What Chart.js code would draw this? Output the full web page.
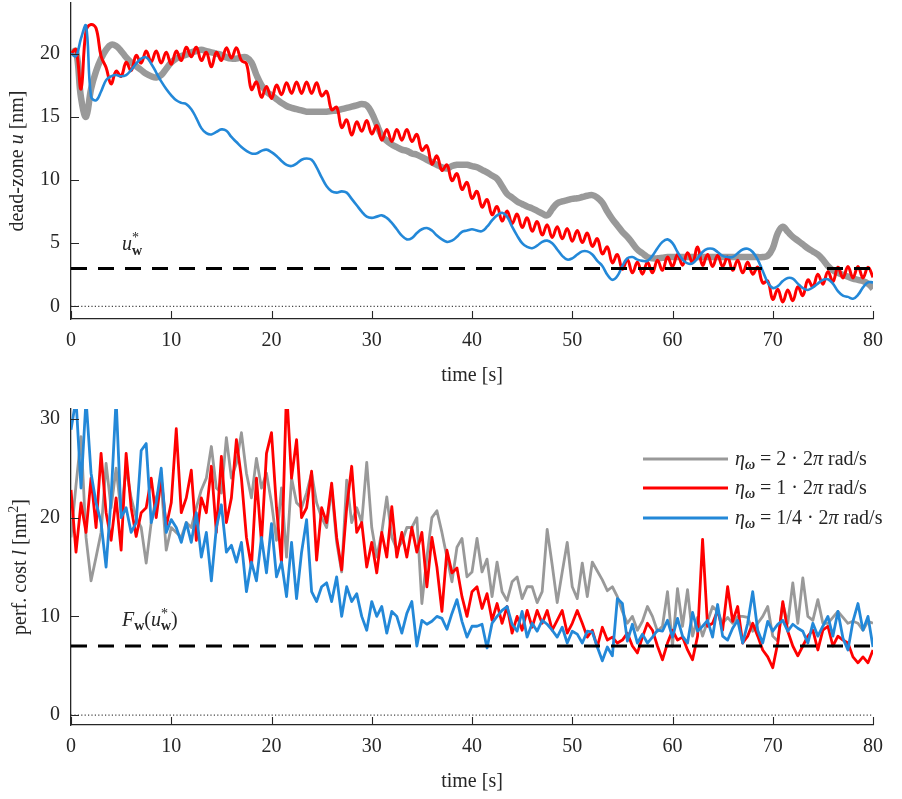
<!DOCTYPE html>
<html>
<head>
<meta charset="utf-8">
<script src="https://cdn.jsdelivr.net/npm/chart.js@4.4.1/dist/chart.umd.min.js"></script>
<style>
  html, body { margin: 0; padding: 0; background: #fff; }
  #wrap { position: relative; width: 902px; height: 799px; }
  #wrap canvas { position: absolute; left: 0; }
</style>
</head>
<body>
<div id="wrap">
  <canvas id="topChart" width="902" height="390" style="top:0"></canvas>
  <canvas id="botChart" width="902" height="409" style="top:390px"></canvas>
</div>
<script>
// sample spacing of every trace [s]
const tStep = 0.5;

const xTicks = [0, 10, 20, 30, 40, 50, 60, 70, 80];
const uTicks = [0, 5, 10, 15, 20];
const lTicks = [0, 10, 20, 30];

const uStar = 3;   // u*_w
const fStar = 7;   // F_w(u*_w)

// dead-zone u [nm], t = 0 .. 80 s every 0.5 s
const uGray = [
  20.0, 20.2, 16.5, 15.0, 17.2, 18.6, 19.6, 20.3, 20.7, 20.6,
  20.2, 19.7, 19.3, 19.0, 18.7, 18.4, 18.2, 18.1, 18.3, 18.8,
  19.3, 19.6, 19.8, 19.9, 20.1, 20.2, 20.3, 20.2, 20.1, 20.0,
  19.9, 19.7, 19.6, 19.6, 19.7, 19.7, 19.3, 18.3, 17.5, 17.0,
  16.7, 16.4, 16.1, 15.85, 15.7, 15.6, 15.5, 15.4, 15.4, 15.4,
  15.4, 15.4, 15.45, 15.5, 15.6, 15.7, 15.8, 15.9, 16.0, 15.9,
  15.3, 14.4, 13.5, 13.1, 12.8, 12.6, 12.4, 12.3, 12.1, 12.0,
  11.8, 11.6, 11.4, 11.2, 11.0, 10.9, 11.1, 11.2, 11.2, 11.2,
  11.1, 11.0, 10.8, 10.6, 10.35, 10.1, 9.5, 8.9, 8.6, 8.3,
  8.1, 7.9, 7.75, 7.55, 7.35, 7.2, 7.7, 8.15, 8.3, 8.4,
  8.5, 8.55, 8.65, 8.75, 8.8, 8.6, 8.2, 7.5, 6.9, 6.4,
  5.9, 5.5, 5.0, 4.5, 4.2, 3.9, 3.8, 3.8, 3.85, 3.9,
  3.9, 3.9, 3.9, 3.9, 3.9, 3.9, 3.9, 3.9, 3.9, 3.9,
  3.9, 3.9, 3.9, 3.9, 3.9, 3.9, 3.9, 3.9, 3.9, 4.0,
  4.6, 5.8, 6.3, 5.9, 5.5, 5.2, 4.9, 4.6, 4.35, 4.1,
  3.7, 3.2, 2.85, 2.65, 2.5, 2.35, 2.2, 2.1, 2.0, 1.8,
  1.4
];
const uRed = [
  20.0, 20.3, 17.2, 21.8, 22.3, 22.0, 19.8, 18.9, 17.6, 18.6,
  18.2, 19.3, 18.65, 19.85, 19.25, 20.2, 19.35, 20.2, 19.25, 20.1,
  19.15, 20.2, 19.45, 20.5, 19.75, 20.5, 19.45, 20.1, 18.95, 20.1,
  19.45, 20.45, 19.65, 20.45, 19.45, 19.2, 17.15, 17.75, 16.55, 17.4,
  16.45, 17.5, 16.75, 17.7, 16.85, 17.75, 16.85, 17.75, 16.85, 17.7,
  16.65, 17.0, 15.55, 15.75, 14.15, 14.75, 13.55, 14.6, 13.85, 14.7,
  13.65, 14.3, 13.15, 14.0, 13.05, 14.0, 13.15, 14.0, 13.05, 13.6,
  12.35, 12.7, 11.25, 11.9, 10.75, 11.2, 9.95, 10.5, 9.25, 9.8,
  8.55, 9.1, 7.85, 8.45, 7.25, 7.9, 6.75, 7.55, 6.55, 7.3,
  6.25, 7.0, 5.95, 6.7, 5.65, 6.45, 5.45, 6.3, 5.35, 6.15,
  5.15, 6.0, 5.05, 5.8, 4.75, 5.35, 4.15, 4.7, 3.45, 4.1,
  2.95, 3.7, 2.65, 3.5, 2.55, 3.5, 2.65, 3.65, 2.85, 3.9,
  3.15, 4.1, 3.25, 4.25, 3.45, 4.7, 3.25, 4.1, 3.15, 4.05,
  3.15, 3.9, 2.85, 3.65, 2.65, 3.5, 2.55, 3.1, 1.85, 2.0,
  0.55, 1.35, 0.35, 1.3, 0.45, 1.55, 0.85, 2.1, 1.55, 2.55,
  1.75, 2.75, 1.95, 3.1, 2.25, 3.15, 2.25, 3.15, 2.25, 3.1,
  2.3
];
const uBlue = [
  20.0, 19.8, 21.2, 22.2, 16.6, 16.3, 17.0, 17.9, 18.2, 18.3,
  18.2, 18.3, 18.7, 19.2, 19.6, 19.7, 19.2, 18.5, 17.8, 17.2,
  16.7, 16.3, 16.1, 16.0, 15.6, 14.9, 14.1, 13.7, 13.6, 13.8,
  14.0, 13.9, 13.4, 13.0, 12.6, 12.3, 12.1, 12.1, 12.3, 12.4,
  12.2, 11.9, 11.5, 11.2, 11.1, 11.3, 11.6, 11.7, 11.6, 11.0,
  10.2, 9.5, 9.1, 9.0, 9.1, 9.0, 8.5, 8.0, 7.5, 7.1,
  7.0, 7.1, 7.2, 7.0, 6.6, 6.1, 5.6, 5.3, 5.4, 5.8,
  6.1, 6.2, 6.0, 5.6, 5.3, 5.1, 5.2, 5.5, 5.9, 6.0,
  6.1, 6.0, 5.95, 6.3, 6.8, 7.2, 7.4, 7.1, 6.3, 5.6,
  5.0, 4.7, 4.6, 4.8, 5.1, 5.2, 5.0, 4.5, 4.0, 3.7,
  3.8, 4.1, 4.35, 4.35, 4.1, 3.6, 3.2, 2.5, 2.1, 2.4,
  3.2, 3.8, 3.9, 3.7, 3.6, 3.6, 4.0, 4.6, 5.1, 5.3,
  5.0, 4.3, 3.7, 3.4, 3.4, 3.8, 4.3, 4.55, 4.55, 4.3,
  4.0, 3.9, 3.9, 4.2, 4.5, 4.55, 4.3, 3.7, 2.8, 1.9,
  1.45, 1.6, 2.0, 2.25, 2.2, 1.8, 1.45, 1.3, 1.5, 1.8,
  2.1, 2.15, 1.8, 1.2, 0.85, 0.75, 0.6, 0.9, 1.5, 1.9,
  1.9
];

// perf. cost l [nm^2], t = 0 .. 80 s every 0.5 s
const lGray = [
  18.0, 23.3, 28.2, 18.0, 13.6, 16.0, 18.5, 25.5, 21.0, 25.0,
  20.5, 25.0, 22.0, 20.0, 19.0, 15.4, 19.5, 22.0, 23.5, 16.7,
  19.0, 18.5, 18.0, 19.5, 19.0, 21.0, 22.8, 24.0, 27.2, 23.0,
  22.5, 28.1, 24.0, 25.5, 28.6, 24.5, 22.0, 26.0, 23.0, 24.5,
  21.5, 17.7, 23.0, 16.0, 24.0, 21.5, 21.0, 22.5, 24.5, 21.5,
  20.0, 19.0, 23.0, 17.5, 14.5, 23.8, 19.5, 21.0, 19.5, 25.6,
  19.0, 16.0, 18.5, 22.1, 18.0, 16.8, 17.5, 19.0, 19.0, 20.0,
  11.3, 16.0, 20.0, 20.7, 18.5, 16.0, 13.5, 17.0, 17.9, 14.0,
  14.5, 17.9, 14.5, 15.8, 12.0, 15.5, 12.5, 11.6, 13.5, 14.0,
  11.8, 13.0, 13.0, 11.4, 12.5, 18.8, 15.2, 11.4, 14.5, 17.5,
  13.0, 11.8, 15.4, 12.0, 15.5, 14.6, 13.7, 12.6, 13.0, 12.0,
  10.5, 9.3, 10.0, 8.6, 9.5, 11.0, 10.0, 8.5, 9.0, 12.5,
  7.0, 12.8, 9.0, 12.7, 8.0, 9.9, 8.0, 9.5, 11.0, 10.5,
  9.3, 9.9, 9.3, 10.0, 10.0, 9.9, 8.5, 9.3, 10.0, 11.0,
  8.0, 7.5, 11.3, 9.3, 13.4, 9.3, 13.9, 10.0, 9.6, 11.7,
  9.3, 9.3, 9.9, 10.5, 9.9, 9.3, 9.5, 9.3, 8.6, 9.5,
  9.3
];
const lRed = [
  22.8, 16.5, 21.5, 18.5, 24.0, 19.0, 26.5, 20.5, 17.7, 22.0,
  16.7, 26.5, 21.0, 18.1, 20.5, 21.0, 24.0, 20.0, 24.0, 19.1,
  21.5, 29.0, 20.5, 22.0, 24.8, 17.7, 22.0, 20.5, 25.2, 18.5,
  26.2, 19.5, 22.0, 27.9, 24.0, 18.0, 15.0, 24.0, 17.5, 26.5,
  28.6, 21.0, 15.4, 33.0, 24.0, 27.9, 20.0, 21.0, 24.7, 15.7,
  21.0, 19.5, 23.5, 18.0, 14.7, 21.0, 25.2, 18.5, 19.5, 15.0,
  17.5, 14.4, 18.5, 16.0, 21.1, 16.0, 18.5, 16.0, 19.0, 16.5,
  18.5, 13.0, 18.0, 15.0, 10.5, 16.7, 14.4, 14.9, 12.0, 10.0,
  12.5, 13.0, 10.8, 12.3, 9.6, 11.3, 9.3, 11.0, 8.3, 10.0,
  8.6, 10.6, 8.9, 10.6, 9.3, 10.6, 8.6, 9.6, 10.6, 8.3,
  9.3, 10.6, 9.3, 7.9, 8.6, 6.9, 8.9, 7.6, 7.9, 7.3,
  7.6, 8.3, 7.0, 6.3, 7.9, 9.3, 8.6, 7.0, 5.6, 7.3,
  8.6, 7.6, 7.9, 6.6, 5.6, 8.0, 17.8, 9.0, 9.3, 10.6,
  8.6, 13.0, 9.5, 11.0, 7.3, 8.0, 9.3, 8.0, 6.6, 5.9,
  4.8, 7.3, 11.5, 8.5, 7.0, 6.0, 7.0, 8.0, 8.6, 6.6,
  8.6, 9.0, 7.0, 8.0, 7.6, 7.3, 5.9, 5.3, 5.9, 5.3,
  6.6
];
const lBlue = [
  28.9, 32.0, 23.0, 32.0, 24.5, 21.5, 19.5, 15.0, 22.0, 32.0,
  20.0, 21.0, 18.5, 19.5, 26.8, 27.5, 19.5, 21.5, 25.0, 18.5,
  19.8, 19.0, 17.5, 19.5, 17.5, 20.5, 16.0, 18.5, 13.6, 19.0,
  21.3, 16.5, 17.2, 15.5, 17.5, 12.5, 15.5, 13.6, 18.0, 14.4,
  19.4, 14.0, 15.5, 12.0, 17.5, 11.8, 16.5, 19.8, 12.5, 11.5,
  13.0, 13.4, 11.5, 14.0, 10.0, 13.0, 11.5, 12.3, 10.0, 8.6,
  11.5, 10.0, 11.0, 8.3, 10.5, 10.0, 8.3, 10.3, 11.5, 7.0,
  9.6, 9.2, 9.5, 10.0, 9.8, 8.7, 10.3, 11.7, 9.5, 7.9,
  9.0, 9.0, 9.2, 6.8, 9.3, 10.0, 10.6, 11.0, 9.2, 8.5,
  10.5, 7.9, 9.3, 8.5, 9.6, 9.2, 8.6, 7.9, 8.9, 7.3,
  8.5, 8.2, 7.3, 8.5, 8.4, 6.9, 5.5, 6.9, 6.0, 11.8,
  11.3, 7.5, 9.2, 7.3, 8.2, 7.3, 7.9, 8.6, 8.5, 9.6,
  7.9, 9.8, 8.0, 7.3, 10.4, 8.5, 9.0, 9.6, 7.9, 11.2,
  8.0, 7.6, 8.8, 9.6, 7.3, 9.3, 12.5, 8.6, 7.3, 9.5,
  8.5, 9.2, 9.6, 8.5, 9.2, 8.8, 8.5, 7.3, 9.3, 8.0,
  9.0, 10.0, 8.0, 10.5, 7.8, 6.6, 9.5, 11.3, 8.6, 10.0,
  6.9
];

const legendLabels = [
  [['η', 'italic', 20, 0], ['ω', 'italic bold', 14, 4], [' = 2 · 2', '', 20, 0], ['π', 'italic', 20, 0], [' rad/s', '', 20, 0]],
  [['η', 'italic', 20, 0], ['ω', 'italic bold', 14, 4], [' = 1 · 2', '', 20, 0], ['π', 'italic', 20, 0], [' rad/s', '', 20, 0]],
  [['η', 'italic', 20, 0], ['ω', 'italic bold', 14, 4], [' = 1/4 · 2', '', 20, 0], ['π', 'italic', 20, 0], [' rad/s', '', 20, 0]]
];

const FONT = "'Liberation Serif', 'DejaVu Serif', serif";
const AXIS = '#262626';
const GRAY = '#999999', RED = '#ff0000', BLUE = '#2388d8';

const pts = vals => vals.map((v, i) => ({ x: i * tStep, y: v }));
const flat = v => [{ x: 0, y: v }, { x: 80, y: v }];

// text made of pieces: [text, style, size, dy, noAdvance]
function drawMath(ctx, x, y, parts, align) {
  const fontOf = p => `${p[1] || ''} ${p[2]}px ${FONT}`.trim();
  let w = 0;
  parts.forEach(p => { if (!p[4]) { ctx.font = fontOf(p); w += ctx.measureText(p[0]).width; } });
  let cx = align === 'center' ? x - w / 2 : x;
  ctx.textAlign = 'left';
  ctx.textBaseline = 'alphabetic';
  parts.forEach(p => {
    ctx.font = fontOf(p);
    ctx.fillText(p[0], cx, y + (p[3] || 0));
    if (!p[4]) cx += ctx.measureText(p[0]).width;
  });
}

const extras = {
  topChart: {
    yTicks: uTicks, yTitleX: 23,
    yTitle: [['dead-zone ', '', 20, 0], ['u', 'italic', 20, 0], [' [nm]', '', 20, 0]],
    note: [['u', 'italic', 20, 0], ['*', '', 14, -8, true], ['w', 'bold', 14, 5]],
    noteRef: uStar, noteDy: -18
  },
  botChart: {
    yTicks: lTicks, yTitleX: 26,
    yTitle: [['perf. cost ', '', 20, 0], ['l', 'italic', 20, 0], [' [nm', '', 20, 0], ['2', '', 14, -8], [']', '', 20, 0]],
    note: [['F', 'italic', 20, 0], ['w', 'bold', 14, 4], ['(', '', 20, 0], ['u', 'italic', 20, 0], ['*', '', 14, -8, true], ['w', 'bold', 14, 4], [')', '', 20, 0]],
    noteRef: fStar, noteDy: -20,
    legend: true
  }
};

const extrasPlugin = {
  id: 'extras',
  afterDraw(chart) {
    const cfg = extras[chart.canvas.id];
    const ctx = chart.ctx, area = chart.chartArea;
    const xs = chart.scales.x, ys = chart.scales.y;
    ctx.save();
    ctx.strokeStyle = AXIS; ctx.fillStyle = AXIS; ctx.lineWidth = 1.1;
    // inward ticks
    ctx.beginPath();
    xTicks.forEach(v => { const px = Math.round(xs.getPixelForValue(v)) + 0.5; ctx.moveTo(px, area.bottom); ctx.lineTo(px, area.bottom - 8); });
    cfg.yTicks.forEach(v => { const py = Math.round(ys.getPixelForValue(v)) + 0.5; ctx.moveTo(area.left, py); ctx.lineTo(area.left + 8, py); });
    ctx.stroke();
    // axis titles
    drawMath(ctx, (area.left + area.right) / 2, area.bottom + 62, [['time [s]', '', 20, 0]], 'center');
    ctx.save();
    ctx.translate(cfg.yTitleX, (area.top + area.bottom) / 2);
    ctx.rotate(-Math.PI / 2);
    drawMath(ctx, 0, 0, cfg.yTitle, 'center');
    ctx.restore();
    // reference level label
    drawMath(ctx, area.left + 51, ys.getPixelForValue(cfg.noteRef) + cfg.noteDy, cfg.note, 'left');
    // legend
    if (cfg.legend) {
      const colors = [GRAY, RED, BLUE];
      const rows = [50, 79, 109];
      rows.forEach((dy, i) => {
        const y = area.top + dy;
        ctx.strokeStyle = colors[i]; ctx.lineWidth = 3;
        ctx.beginPath(); ctx.moveTo(area.right - 230, y); ctx.lineTo(area.right - 145, y); ctx.stroke();
        ctx.fillStyle = AXIS;
        drawMath(ctx, area.right - 138, y + 6, legendLabels[i], 'left');
      });
    }
    ctx.restore();
  }
};

function makeChart(id, c) {
  const noPad = s => { s.paddingTop = 0; s.paddingBottom = 0; s.paddingLeft = 0; s.paddingRight = 0; };
  return new Chart(document.getElementById(id), {
    type: 'line',
    data: { datasets: c.datasets },
    options: {
      responsive: false,
      animation: false,
      events: [],
      layout: { padding: { top: c.padTop, right: 29, left: 0, bottom: 0 } },
      plugins: { legend: { display: false }, tooltip: { enabled: false } },
      elements: { point: { radius: 0 }, line: { borderJoinStyle: 'round' } },
      scales: {
        x: {
          type: 'linear', min: 0, max: 80,
          afterBuildTicks: s => { s.ticks = xTicks.map(v => ({ value: v })); },
          afterFit: s => { s.height = c.xHeight; noPad(s); },
          grid: { display: false, drawTicks: false },
          border: { display: true, color: AXIS, width: 1.3 },
          ticks: { font: { family: FONT, size: 20 }, color: AXIS, padding: 10, maxRotation: 0, autoSkip: false }
        },
        y: {
          type: 'linear', min: c.yMin, max: c.yMax,
          afterBuildTicks: s => { s.ticks = c.yTicks.map(v => ({ value: v })); },
          afterFit: s => { s.width = 71; noPad(s); },
          grid: { display: false, drawTicks: false },
          border: { display: true, color: AXIS, width: 1.3 },
          ticks: { font: { family: FONT, size: 20 }, color: AXIS, padding: 11 }
        }
      }
    },
    plugins: [extrasPlugin]
  });
}

const dashed = v => ({ data: flat(v), borderColor: '#000', borderWidth: 3, borderDash: [16, 11], order: 0 });
const dotted = () => ({ data: flat(0), borderColor: '#444', borderWidth: 1.2, borderDash: [1.2, 2.2], order: 4 });

makeChart('topChart', {
  padTop: 3, xHeight: 71, yMin: -1, yMax: 24, yTicks: uTicks,
  datasets: [
    dashed(uStar),
    { data: pts(uBlue), borderColor: BLUE, borderWidth: 2.6, tension: 0.4, order: 1 },
    { data: pts(uRed), borderColor: RED, borderWidth: 3, tension: 0.4, order: 2 },
    { data: pts(uGray), borderColor: GRAY, borderWidth: 6.5, tension: 0.4, order: 3 },
    dotted()
  ]
});

makeChart('botChart', {
  padTop: 19, xHeight: 74, yMin: -1, yMax: 31, yTicks: lTicks,
  datasets: [
    dashed(fStar),
    { data: pts(lBlue), borderColor: BLUE, borderWidth: 2.8, tension: 0, order: 1 },
    { data: pts(lRed), borderColor: RED, borderWidth: 2.8, tension: 0, order: 2 },
    { data: pts(lGray), borderColor: GRAY, borderWidth: 2.8, tension: 0, order: 3 },
    dotted()
  ]
});
</script>
</body>
</html>
